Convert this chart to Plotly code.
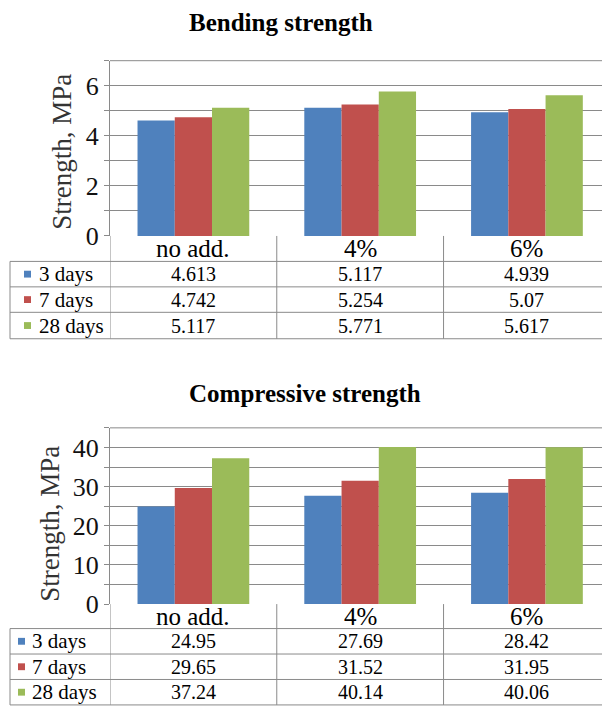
import plotly.graph_objects as go

# ---------------- data ----------------
categories = ["no add.", "4%", "6%"]
series_names = ["3 days", "7 days", "28 days"]
series_colors = ["#4F81BD", "#C0504D", "#9BBB59"]

bending_3d = [4.613, 5.117, 4.939]
bending_7d = [4.742, 5.254, 5.07]
bending_28d = [5.117, 5.771, 5.617]

compressive_3d = [24.95, 27.69, 28.42]
compressive_7d = [29.65, 31.52, 31.95]
compressive_28d = [37.24, 40.14, 40.06]

bending_tick_vals = [0, 1, 2, 3, 4, 5, 6, 7]
bending_tick_text = ["0", "", "2", "", "4", "", "6", ""]
compressive_tick_vals = [0, 5, 10, 15, 20, 25, 30, 35, 40, 45]
compressive_tick_text = ["0", "", "10", "", "20", "", "30", "", "40", ""]

titles = ["Bending strength", "Compressive strength"]
y_title = "Strength, MPa"

# ---------------- layout helpers ----------------
W, H = 602, 717
FONT = "'Liberation Serif', 'Times New Roman', 'DejaVu Serif', serif"
GRID = "#8a8a8a"


def px(x):
    return x / W


def py(y):
    return 1 - y / H


panels = [
    dict(series=[bending_3d, bending_7d, bending_28d], tv=bending_tick_vals, tt=bending_tick_text,
         yrange=[0, 7], top=62, bottom=241, rows=[267, 293, 319, 346],
         title_xy=(281, 23), ytitle_xy=(62, 155), sq_x=24, txt_x=37, title=titles[0]),
    dict(series=[compressive_3d, compressive_7d, compressive_28d], tv=compressive_tick_vals,
         tt=compressive_tick_text, yrange=[0, 45], top=437, bottom=617, rows=[642, 668, 694, 720],
         title_xy=(305, 402), ytitle_xy=(50, 535), sq_x=18, txt_x=30, title=titles[1]),
]

fig = go.Figure()
shapes = []
annotations = []
xrange_ = [-0.5, 2.45]

for i, p in enumerate(panels):
    xa = "x" if i == 0 else "x2"
    ya = "y" if i == 0 else "y2"
    for name, vals, col in zip(series_names, p["series"], series_colors):
        fig.add_trace(go.Bar(x=categories, y=vals, name=name, marker=dict(color=col, line=dict(width=0)),
                             xaxis=xa, yaxis=ya, showlegend=False))
    axis_key = "xaxis" if i == 0 else "xaxis2"
    yaxis_key = "yaxis" if i == 0 else "yaxis2"
    fig.update_layout(**{
        axis_key: dict(domain=[px(110), 1], range=xrange_, anchor=ya, showticklabels=False,
                       showgrid=False, zeroline=False, showline=False, ticks="",
                       type="category", categoryorder="array", categoryarray=categories),
        yaxis_key: dict(domain=[py(p["bottom"]), py(p["top"])], range=p["yrange"], anchor=xa,
                        tickvals=p["tv"], ticktext=p["tt"], ticks="outside", ticklen=5,
                        tickcolor=GRID, showgrid=True, gridcolor=GRID, gridwidth=1,
                        showline=True, linecolor=GRID, linewidth=1, zeroline=False,
                        tickfont=dict(family=FONT, size=26, color="#111")),
    })
    # title
    annotations.append(dict(text="<b>%s</b>" % p["title"], x=px(p["title_xy"][0]), y=py(p["title_xy"][1]),
                            xref="paper", yref="paper", showarrow=False, xanchor="center", yanchor="middle",
                            font=dict(family=FONT, size=25, color="#000")))
    # y-axis title
    annotations.append(dict(text=y_title, x=px(p["ytitle_xy"][0]), y=py(p["ytitle_xy"][1]),
                            xref="paper", yref="paper", showarrow=False, textangle=-90,
                            xanchor="center", yanchor="middle",
                            font=dict(family=FONT, size=27, color="#333")))
    # top gridline at range top
    shapes.append(dict(type="line", xref="paper", yref="paper", x0=px(110), x1=1,
                       y0=py(p["top"]), y1=py(p["top"]), line=dict(color=GRID, width=1)))
    # table
    rows = p["rows"]
    tbl_bottom = rows[-1]
    for xb in [-0.5, 0.5, 1.5]:
        shapes.append(dict(type="line", xref=xa, yref="paper", x0=xb, x1=xb,
                           y0=py(p["bottom"]), y1=py(tbl_bottom), line=dict(color=GRID, width=1)))
    shapes.append(dict(type="line", xref="paper", yref="paper", x0=px(10), x1=px(10),
                       y0=py(rows[0]), y1=py(tbl_bottom), line=dict(color=GRID, width=1)))
    for ry in rows:
        shapes.append(dict(type="line", xref="paper", yref="paper", x0=px(10), x1=1,
                           y0=py(ry), y1=py(ry), line=dict(color=GRID, width=1)))
    # header (category labels)
    hdr_c = (p["bottom"] + rows[0]) / 2
    for ci, cat in enumerate(categories):
        annotations.append(dict(text=cat, x=ci, y=py(hdr_c), xref=xa, yref="paper", showarrow=False,
                                xanchor="center", yanchor="middle",
                                font=dict(family=FONT, size=25, color="#000")))
    # data rows
    row_tops = [rows[0], rows[1], rows[2]]
    row_bots = [rows[1], rows[2], rows[3]]
    for si, (name, vals, col) in enumerate(zip(series_names, p["series"], series_colors)):
        cy = (row_tops[si] + row_bots[si]) / 2
        shapes.append(dict(type="rect", xref="paper", yref="paper", x0=px(p["sq_x"]), x1=px(p["sq_x"] + 7),
                           y0=py(cy + 3.5), y1=py(cy - 3.5), fillcolor=col, line=dict(width=0)))
        annotations.append(dict(text=name, x=px(p["txt_x"]), y=py(cy), xref="paper", yref="paper",
                                showarrow=False, xanchor="left", yanchor="middle",
                                font=dict(family=FONT, size=21, color="#000")))
        for ci, v in enumerate(vals):
            annotations.append(dict(text=str(v), x=ci, y=py(cy), xref=xa, yref="paper", showarrow=False,
                                    xanchor="center", yanchor="middle",
                                    font=dict(family=FONT, size=20, color="#000")))

fig.update_layout(width=W, height=H, margin=dict(l=0, r=0, t=0, b=0),
                  paper_bgcolor="white", plot_bgcolor="white",
                  barmode="group", bargap=0.33, bargroupgap=0,
                  shapes=shapes, annotations=annotations,
                  font=dict(family=FONT))

fig.write_html("out.html")
